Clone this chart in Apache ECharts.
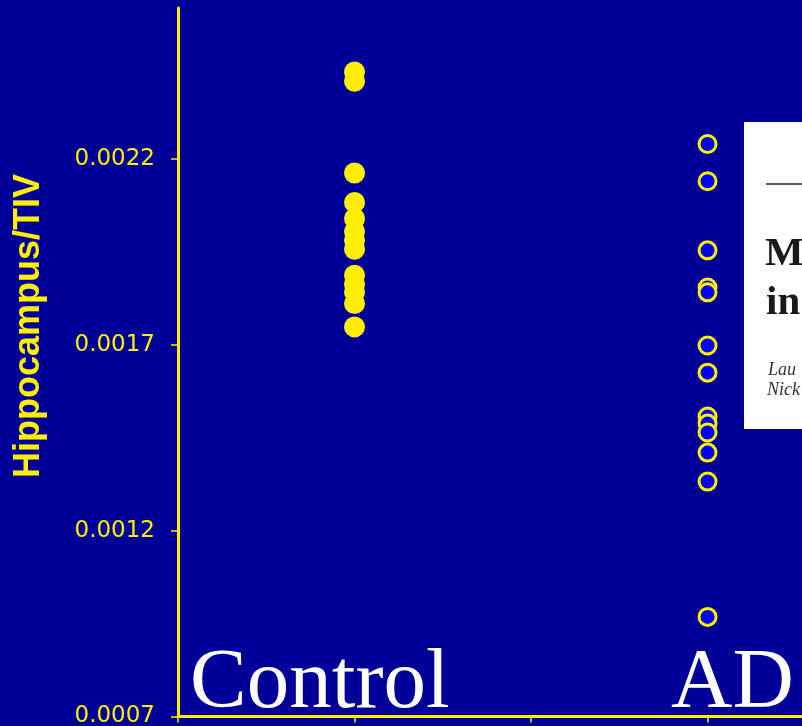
<!DOCTYPE html>
<html>
<head>
<meta charset="utf-8">
<script src="https://cdn.jsdelivr.net/npm/echarts@6/dist/echarts.min.js"></script>
<style>
html,body{margin:0;padding:0;background:#000099;}
#chart{width:802px;height:726px;}
</style>
</head>
<body>
<div id="chart"></div>
<script>
const categories = ['Control', 'AD'];
const categoryPositions = [1, 3];
const controlValues = [0.002434, 0.002409, 0.002162, 0.002083, 0.002040, 0.002005, 0.001981, 0.001957, 0.001887, 0.001862, 0.001841, 0.001811, 0.001748];
const adValues = [0.002240, 0.002140, 0.001954, 0.001854, 0.001841, 0.001698, 0.001625, 0.001507, 0.001488, 0.001464, 0.001410, 0.001332, 0.000968];
const yTicks = [0.0007, 0.0012, 0.0017, 0.0022];
const xTicks = [0, 1, 2, 3];

const YELLOW = '#FFEE00';
const chart = echarts.init(document.getElementById('chart'));

chart.setOption({
  backgroundColor: '#000099',
  animation: false,
  grid: { left: 178, right: 0, top: 8, bottom: 9.5, containLabel: false, outerBoundsMode: 'none' },
  xAxis: {
    type: 'value', min: 0, max: 3.535,
    axisLine: { show: true, onZero: false, lineStyle: { color: YELLOW, width: 3 } },
    axisTick: { show: true, length: 6, customValues: xTicks, lineStyle: { color: YELLOW, width: 1.5 } },
    axisLabel: { show: false },
    splitLine: { show: false }
  },
  yAxis: {
    type: 'value', min: 0.0007, max: 0.002606,
    axisLine: { show: true, onZero: false, lineStyle: { color: YELLOW, width: 3 } },
    axisTick: { show: true, length: 7, customValues: yTicks, lineStyle: { color: YELLOW, width: 1.5 } },
    axisLabel: {
      show: true, customValues: yTicks, margin: 23,
      color: YELLOW, fontFamily: 'DejaVu Sans', fontSize: 23,
      formatter: v => v.toFixed(4)
    },
    splitLine: { show: false }
  },
  series: [
    {
      name: categories[0], type: 'scatter', symbol: 'circle', symbolSize: 21,
      itemStyle: { color: YELLOW, opacity: 1 },
      data: controlValues.map(v => [categoryPositions[0], v])
    },
    {
      name: categories[1], type: 'scatter', symbol: 'circle', symbolSize: 17,
      itemStyle: { color: '#0000FF', borderColor: YELLOW, borderWidth: 3, opacity: 1 },
      data: adValues.map(v => [categoryPositions[1], v])
    }
  ],
  graphic: [
    { type: 'text', silent: true, z: 10, x: 29, y: 326, rotation: Math.PI / 2,
      style: { text: 'Hippocampus/TIV', x: 0, y: 0, fill: YELLOW, font: 'bold 36px "Liberation Sans"', align: 'center', verticalAlign: 'middle' } },
    { type: 'text', silent: true, z: 10,
      style: { text: categories[0], x: 190, y: 685, fill: '#FFFFFF', font: '85px "Liberation Serif"', align: 'left', verticalAlign: 'middle' } },
    { type: 'text', silent: true, z: 10,
      style: { text: categories[1], x: 671, y: 685, fill: '#FFFFFF', font: '85px "Liberation Serif"', align: 'left', verticalAlign: 'middle' } },
    { type: 'rect', silent: true, z: 20,
      shape: { x: 744, y: 122, width: 60, height: 307 }, style: { fill: '#FFFFFF' } },
    { type: 'line', silent: true, z: 21,
      shape: { x1: 766, y1: 184, x2: 802, y2: 184 }, style: { stroke: '#222222', lineWidth: 1.3 } },
    { type: 'text', silent: true, z: 21,
      style: { text: 'M', x: 765, y: 254.5, fill: '#1a1a1a', font: 'bold 41px "Liberation Serif"', align: 'left', verticalAlign: 'middle' } },
    { type: 'text', silent: true, z: 21,
      style: { text: 'in', x: 766, y: 303, fill: '#1a1a1a', font: 'bold 41px "Liberation Serif"', align: 'left', verticalAlign: 'middle' } },
    { type: 'text', silent: true, z: 21,
      style: { text: 'Lau', x: 768, y: 370.5, fill: '#333333', font: 'italic 18px "Liberation Serif"', align: 'left', verticalAlign: 'middle' } },
    { type: 'text', silent: true, z: 21,
      style: { text: 'Nick', x: 767, y: 390.5, fill: '#333333', font: 'italic 18px "Liberation Serif"', align: 'left', verticalAlign: 'middle' } }
  ]
});
</script>
</body>
</html>
